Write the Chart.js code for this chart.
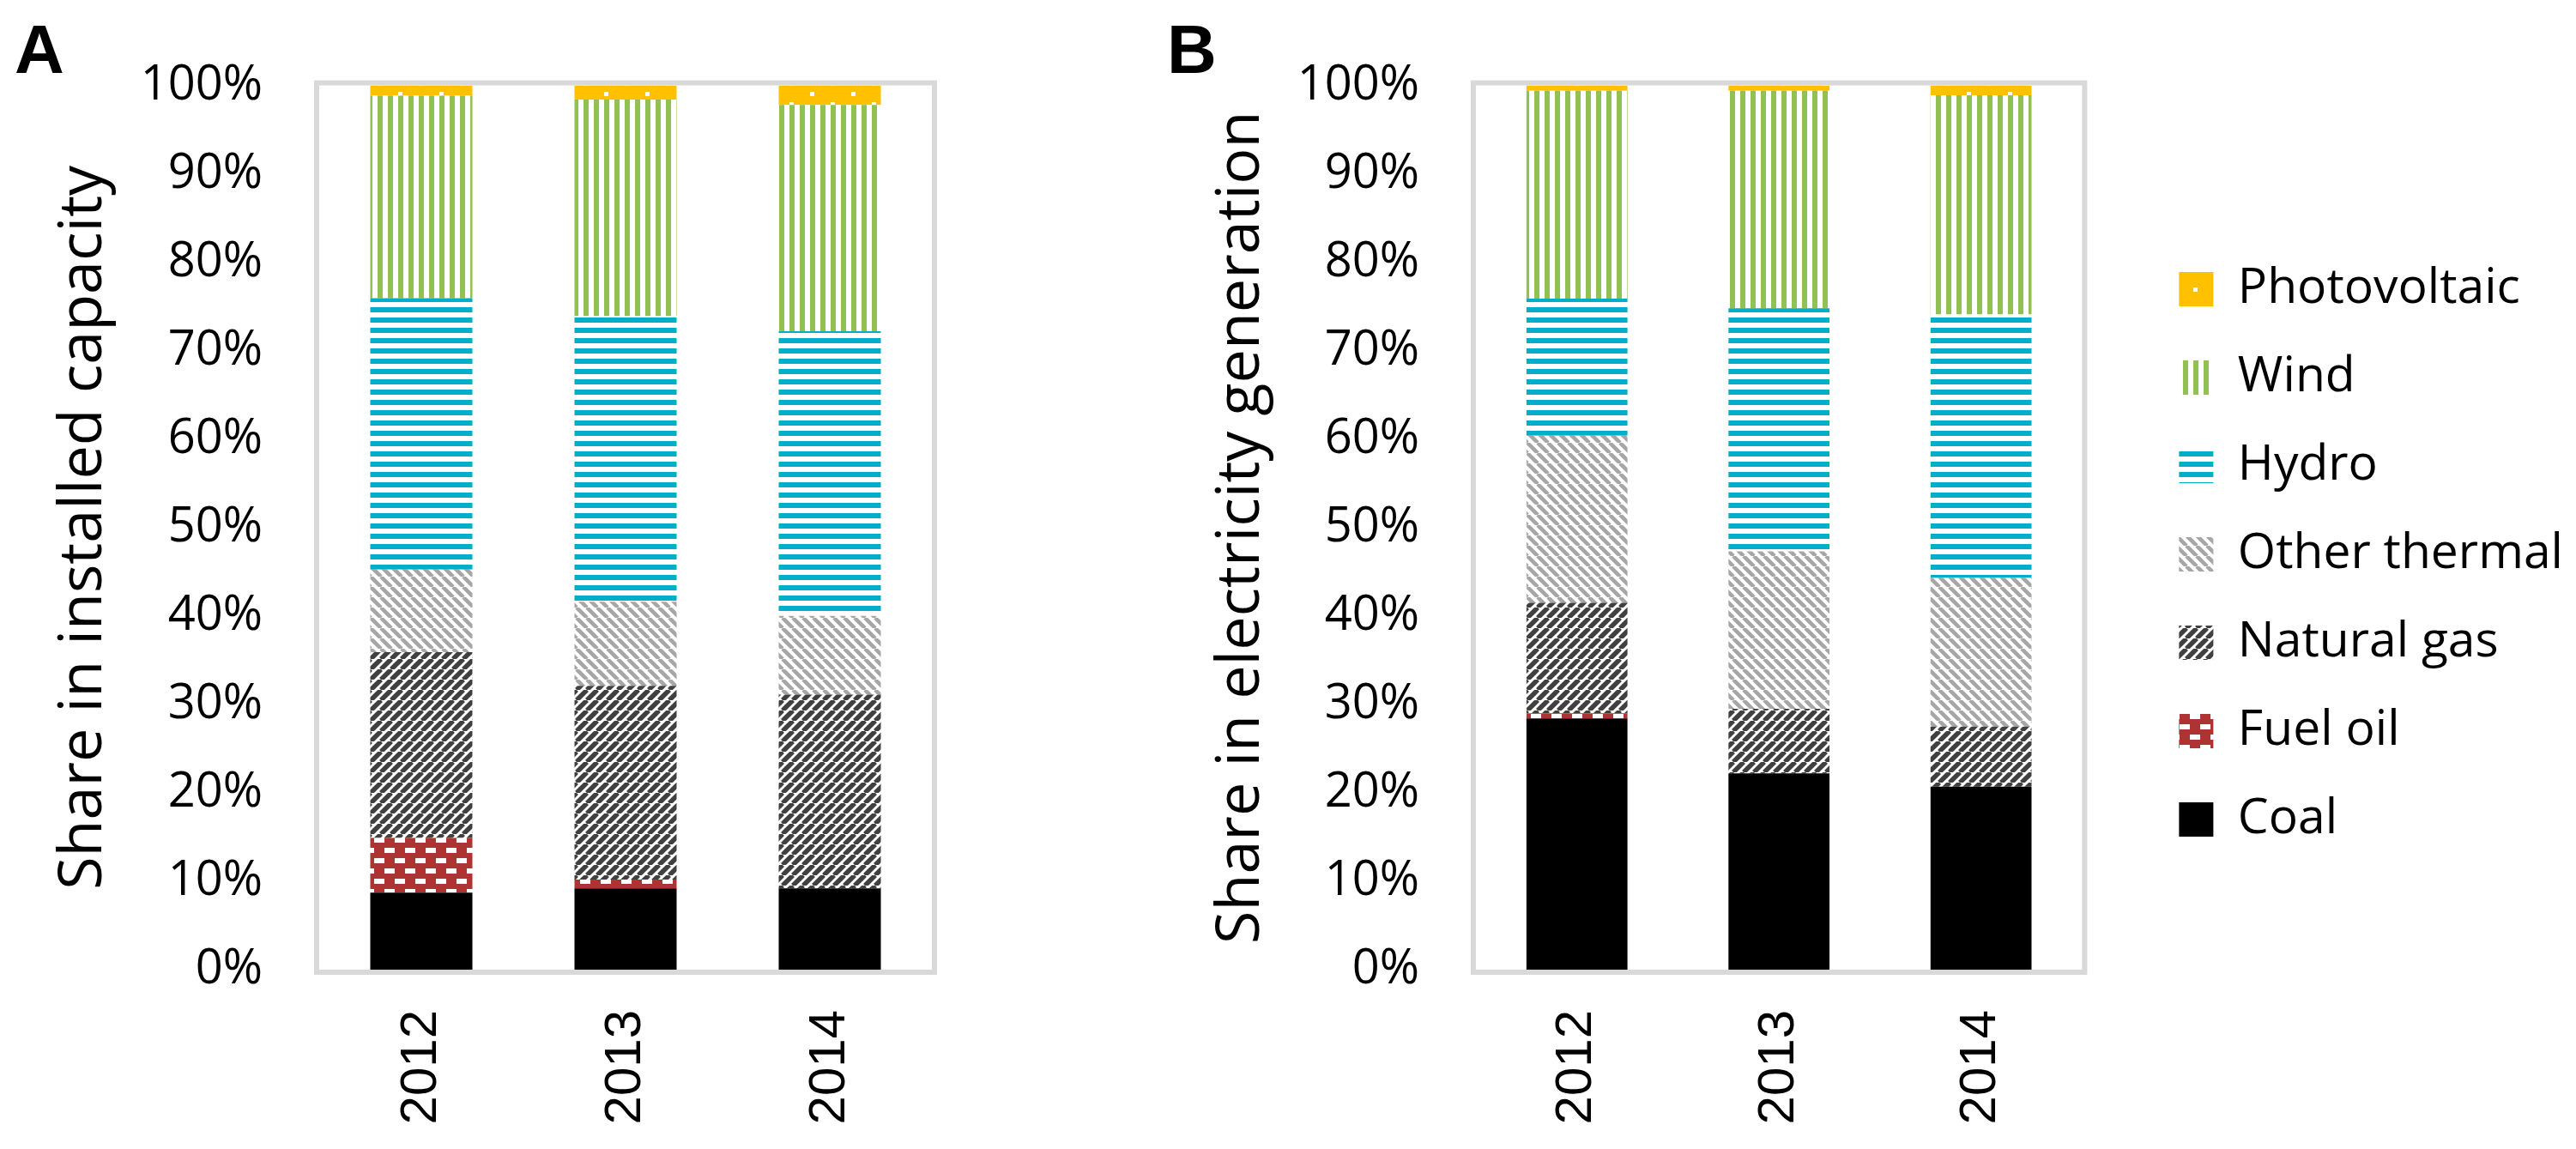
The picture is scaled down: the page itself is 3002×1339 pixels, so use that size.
<!DOCTYPE html>
<html>
<head>
<meta charset="utf-8">
<script src="https://cdn.jsdelivr.net/npm/chart.js@4.4.1/dist/chart.umd.min.js"></script>
<style>
  html, body { margin: 0; padding: 0; background: #fff; }
  body { width: 3002px; height: 1339px; position: relative; overflow: hidden; }
  canvas { position: absolute; top: 0; }
  #capacity { left: 0; }
  #generation { left: 1300px; }
</style>
</head>
<body>
<canvas id="capacity" width="1100" height="1339"></canvas>
<canvas id="generation" width="1702" height="1339"></canvas>
<script>
const years = ['2012', '2013', '2014'];
const sources = ['Coal', 'Fuel oil', 'Natural gas', 'Other thermal', 'Hydro', 'Wind', 'Photovoltaic'];

// A - share in installed capacity (%)
const capCoal = [8.7, 9.2, 9.2];
const capFuelOil = [6.2, 1.0, 0];
const capGas = [21.0, 21.9, 21.9];
const capOtherThermal = [9.35, 9.5, 8.9];
const capHydro = [30.7, 32.3, 32.2];
const capWind = [22.9, 24.5, 25.6];
const capPV = [1.15, 1.6, 2.2];

// B - share in electricity generation (%)
const genCoal = [28.4, 22.2, 20.7];
const genFuelOil = [0.6, 0, 0];
const genGas = [12.5, 7.3, 6.8];
const genOtherThermal = [18.9, 17.8, 16.8];
const genHydro = [15.5, 27.5, 29.8];
const genWind = [23.5, 24.6, 24.8];
const genPV = [0.6, 0.6, 1.1];

const yMin = 0, yMax = 100, yStep = 10;

Chart.defaults.font.family = "'Open Sans', sans-serif";
Chart.defaults.color = '#000';

function tile(w, h, paint) {
    var c = document.createElement('canvas');
    c.width = w;
    c.height = h;
    paint(c.getContext('2d'), w, h);
    return c;
}

function stripes(color, width, dir) {
    return tile(12, 12, function (g) {
        g.fillStyle = '#fff';
        g.fillRect(0, 0, 12, 12);
        g.strokeStyle = color;
        g.lineWidth = width;
        g.beginPath();
        [-12, 0, 12].forEach(function (k) {
            if (dir === 'up') { g.moveTo(k, 12); g.lineTo(k + 12, 0); }
            else { g.moveTo(k, 0); g.lineTo(k + 12, 12); }
        });
        g.stroke();
    });
}

// Excel-like hatch fills, one per source
function makeFills(ctx) {
    var p = function (c) { return ctx.createPattern(c, 'repeat'); };
    return {
        'Coal': '#000000',
        'Fuel oil': p(tile(24, 24, function (g) {
            g.fillStyle = '#ad3432';
            g.fillRect(0, 0, 24, 24);
            g.fillStyle = '#fff';
            g.fillRect(4, 16, 12, 6);
            g.fillRect(16, 4, 12, 6);
            g.fillRect(-8, 4, 12, 6);
        })),
        'Natural gas': p(stripes('#404040', 5.5, 'up')),
        'Other thermal': p(stripes('#a6a6a6', 4.5, 'down')),
        'Hydro': p(tile(12, 12, function (g) {
            g.fillStyle = '#fff';
            g.fillRect(0, 0, 12, 12);
            g.fillStyle = '#00aec8';
            g.fillRect(0, 0, 12, 4);
            g.fillRect(0, 10, 12, 2);
        })),
        'Wind': p(tile(12, 12, function (g) {
            g.fillStyle = '#fff';
            g.fillRect(0, 0, 12, 12);
            g.fillStyle = '#92c051';
            g.fillRect(8, 0, 4, 12);
            g.fillRect(0, 0, 2, 12);
        })),
        'Photovoltaic': p(tile(48, 24, function (g) {
            g.fillStyle = '#ffc000';
            g.fillRect(0, 0, 48, 24);
            g.fillStyle = '#fff';
            g.fillRect(32, 11, 5, 5);
            g.fillRect(8, 23, 5, 5);
            g.fillRect(8, -1, 5, 5);
        }))
    };
}

// grey frame round the plot area
const plotFrame = {
    id: 'plotFrame',
    afterDraw: function (chart) {
        var a = chart.chartArea, ctx = chart.ctx;
        ctx.save();
        ctx.strokeStyle = '#d9d9d9';
        ctx.lineWidth = 6;
        ctx.strokeRect(a.left - 3, a.top - 3, a.right - a.left + 6, a.bottom - a.top + 6);
        ctx.restore();
    }
};

const panelLetter = {
    id: 'panelLetter',
    afterDraw: function (chart, args, opts) {
        var ctx = chart.ctx;
        ctx.save();
        ctx.font = 'bold 80px "Liberation Sans", Arial, sans-serif';
        ctx.fillStyle = '#000';
        ctx.textBaseline = 'alphabetic';
        ctx.fillText(opts.text, opts.x, opts.y);
        ctx.restore();
    }
};

function buildDatasets(ctx, values) {
    var fills = makeFills(ctx);
    return sources.map(function (name, i) {
        return {
            label: name,
            data: values[i],
            backgroundColor: fills[name],
            borderWidth: 0,
            categoryPercentage: 1,
            barPercentage: 0.5
        };
    });
}

function panel(canvasId, letter, values, opts) {
    var el = document.getElementById(canvasId);
    var ctx = el.getContext('2d');
    var scales = {
        x: {
            stacked: true,
            grid: { display: false, drawTicks: false },
            border: { display: false },
            ticks: {
                autoSkip: false,
                minRotation: 90,
                maxRotation: 90,
                padding: 47,
                font: { family: "'Liberation Sans', Arial, sans-serif", size: 60 }
            },
            afterFit: function (s) { s.height = 209; }
        },
        y: {
            stacked: true,
            min: yMin,
            max: yMax,
            grid: { display: false, drawTicks: false },
            border: { display: false },
            ticks: {
                stepSize: yStep,
                padding: 66,
                font: { size: 56 },
                callback: function (v) { return v + '%'; }
            },
            title: {
                display: true,
                text: opts.yTitle,
                font: { size: 70 },
                padding: { top: opts.titlePad, bottom: 0 }
            },
            afterFit: function (s) { s.width = opts.yWidth; }
        }
    };
    if (opts.legend) {
        // empty axis between frame and legend (low weight = placed next to the plot)
        scales.spacer = {
            position: 'right',
            grid: { display: false, drawTicks: false },
            border: { display: false },
            ticks: { display: false },
            afterFit: function (s) { s.width = 67; }
        };
    }
    return new Chart(ctx, {
        type: 'bar',
        data: { labels: years, datasets: buildDatasets(ctx, values) },
        options: {
            responsive: false,
            animation: false,
            layout: { padding: { top: 53, right: opts.padRight, bottom: 0, left: 0 } },
            scales: scales,
            plugins: {
                legend: {
                    display: !!opts.legend,
                    position: 'right',
                    align: 'start',
                    reverse: true,
                    maxWidth: 504,
                    title: { display: true, text: ' ', padding: 97.5 },
                    labels: {
                        boxWidth: 40,
                        boxHeight: 40,
                        padding: 46,
                        color: '#000',
                        font: { size: 57 }
                    }
                },
                tooltip: { enabled: false },
                panelLetter: { text: letter, x: opts.letterX, y: 85 }
            }
        },
        plugins: [plotFrame, panelLetter]
    });
}

panel('capacity', 'A',
    [capCoal, capFuelOil, capGas, capOtherThermal, capHydro, capWind, capPV],
    { yTitle: 'Share in installed capacity', yWidth: 372, titlePad: 56, padRight: 14, letterX: 17, legend: false });

panel('generation', 'B',
    [genCoal, genFuelOil, genGas, genOtherThermal, genHydro, genWind, genPV],
    { yTitle: 'Share in electricity generation', yWidth: 420, titlePad: 105, padRight: 5, letterX: 60, legend: true });
</script>
</body>
</html>
